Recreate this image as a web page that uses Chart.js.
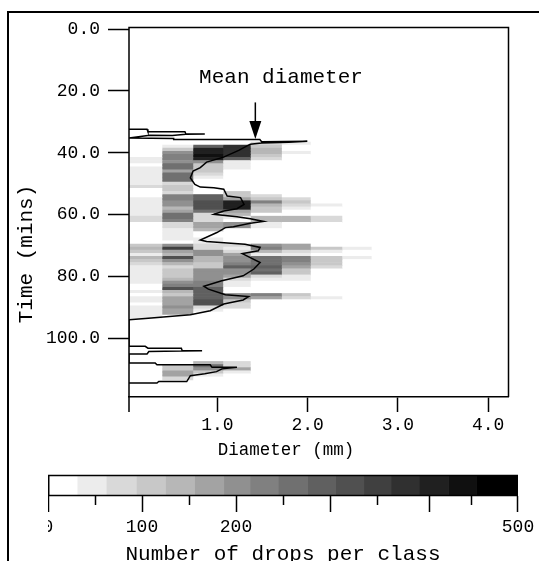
<!DOCTYPE html>
<html><head><meta charset="utf-8">
<style>
html,body{margin:0;padding:0;background:#fff;width:539px;height:561px;overflow:hidden}
#wrap{position:relative;width:539px;height:561px;overflow:hidden}
canvas{position:absolute;display:block;filter:blur(0.35px)}
#main{left:0;top:0}
#bar{left:48px;top:470px}
</style>
<script src="https://cdn.jsdelivr.net/npm/chart.js@4/dist/chart.umd.js"></script>
</head><body><div id="wrap">
<canvas id="main" width="539" height="561"></canvas>
<canvas id="bar" width="491" height="100"></canvas>
</div>
<script>
const FONT = '"Liberation Mono", monospace';
const classEdges = [0.02,0.385,0.728,1.06,1.365,1.71,2.03,2.38,2.705];
const times = [37,38,39,40,41,42,43,44,45,46,47,48,49,50,51,52,53,54,55,56,57,58,59,60,61,62,63,64,65,66,67,68,69,70,71,72,73,74,75,76,77,78,79,80,81,82,83,84,85,86,87,88,89,90,91,92,93,108,109,110,111,112,113];
const class0 = [0,0,0,0,0,47,47,0,47,47,47,47,47,47,78,0,0,0,47,47,47,47,47,47,78,78,0,0,0,0,0,0,0,109,141,109,47,141,109,78,47,47,47,47,47,47,0,0,47,0,47,47,0,47,47,47,47,0,0,0,0,0,0];
const class1 = [0,47,109,203,234,234,203,266,266,172,266,266,266,78,109,109,78,234,234,203,203,141,172,266,266,234,78,78,47,47,47,47,0,203,359,172,141,328,203,141,78,109,109,109,141,203,234,328,141,109,172,172,172,203,172,172,0,0,109,109,172,172,78];
const class2 = [0,297,422,422,453,422,203,109,109,109,78,47,0,0,0,0,0,297,297,328,328,328,266,78,78,78,172,172,141,0,0,47,47,78,78,203,203,141,141,109,109,203,203,203,203,234,234,297,297,297,297,328,328,78,47,0,0,141,266,203,109,47,0];
const class3 = [0,391,391,391,391,297,47,47,47,0,0,0,0,0,0,0,109,109,172,422,422,422,172,141,47,0,203,203,0,0,0,0,0,78,47,78,172,203,203,234,297,203,203,172,78,47,47,0,0,203,203,109,78,78,0,0,0,78,78,172,47,0,0];
const class4 = [78,109,141,141,109,78,0,0,0,0,0,0,0,0,0,0,0,78,109,234,141,109,109,0,141,141,47,47,0,0,0,0,0,203,234,141,47,266,266,266,297,266,297,78,47,0,0,0,0,234,172,0,0,0,0,0,0,0,0,0,0,0,0];
const class5 = [47,0,0,47,0,0,0,0,0,0,0,0,0,0,0,0,0,0,78,109,78,47,0,0,141,141,0,0,0,0,0,0,0,172,172,78,47,234,234,203,172,109,109,47,47,0,0,0,0,109,78,0,0,0,0,0,0,0,0,0,0,0,0];
const class6 = [0,0,0,0,0,0,0,0,0,0,0,0,0,0,0,0,0,0,0,0,47,0,0,0,78,78,0,0,0,0,0,0,0,0,109,47,0,109,109,109,78,0,0,0,0,0,0,0,0,0,47,0,0,0,0,0,0,0,0,0,0,0,0];
const class7 = [0,0,0,0,0,0,0,0,0,0,0,0,0,0,0,0,0,0,0,0,0,0,0,0,0,0,0,0,0,0,0,0,0,0,47,0,0,47,0,0,0,0,0,0,0,0,0,0,0,0,0,0,0,0,0,0,0,0,0,0,0,0,0];
const allClasses = [class0,class1,class2,class3,class4,class5,class6,class7];
const meanDiameter = [.02,.22,.23,.64,.65,.86,.65,.50,.25,.02,.515,.515,1.47,1.49,1.996,1.79,1.49,1.364,1.236,1.068,.88,.81,.73,.70,.75,.81,.96,1.07,1.108,1.256,1.295,1.216,1.07,.96,1.216,1.364,1.512,1.364,1.177,1.088,.994,.81,.88,1.305,1.473,1.453,1.276,1.364,1.473,1.404,1.285,1.048,.85,.90,1.088,1.345,1.285,1.07,.92,.70,.50,.20,.02,.02,.20,.23,.60,.61,.83,.60,.24,.22,.02,.02,.31,.33,.92,.94,1.216,1.05,.99,.86,.70,.66,.35,.33,.02];
const meanTime = [32.4,32.4,33.2,33.2,33.9,33.9,34.0,34.4,34.3,35.2,35.4,35.7,35.7,36.4,36.3,36.6,36.8,37.2,39.2,41.4,43.0,44.8,45.9,48.1,50.2,51.1,51.3,51.8,54.0,54.5,56.7,58.1,58.8,59.9,60.7,61.3,62.2,62.8,63.9,64.2,65.8,68.2,68.7,69.6,70.6,71.7,72.6,73.9,75.5,77.6,79.8,81.4,83.2,84.1,85.9,86.5,87.6,88.9,91.1,92.4,92.9,93.6,94.0,102.6,102.6,103.2,103.2,104.0,104.0,104.1,104.3,105.1,105.1,108.0,108.0,108.6,108.6,109.4,109.4,109.9,110.8,111.5,112.1,114.0,114.0,114.5,114.5];
const legendEdges = [0,31,62,94,125,156,187,215,245,276,306,336,365,395,426,456,500];
const legendGreys = [255,236,217,200,183,163,144,128,112,96,80,64,48,32,16,0];
const legendTicks = [0,50,100,150,200,250,300,350,405,450,500];
const legendLabelled = [0,100,200,500];
const legendLong = [0,100,200,300,405,500];
const xTicks = [1,2,3,4];
const yTicks = [0,20,40,60,80,100];
const arrowDiameter = 1.42, arrowTop = 23.7, arrowBottom = 35.5, annotationText = 'Mean diameter';
const xTitle = 'Diameter (mm)', yTitle = 'Time (mins)', legendTitle = 'Number of drops per class';

function colourFor(v){
  let i = legendEdges.findIndex((e,k)=> v>=e && v<legendEdges[k+1]);
  if(i<0) i = legendGreys.length-1;
  const g = legendGreys[i];
  return `rgb(${g},${g},${g})`;
}
const heatSets = allClasses.map((vals,c)=>({
  type:'bar', indexAxis:'y', order:2, xAxisID:'x', yAxisID:'y', grouped:false,
  barPercentage:1, categoryPercentage:1, borderWidth:0,
  data: times.map((t,i)=>({x:[classEdges[c],classEdges[c+1]],y:t})),
  backgroundColor: vals.map(colourFor)
}));
const zeroPad = s=>{s.paddingLeft=0;s.paddingRight=0;s.paddingTop=0;s.paddingBottom=0;};
const mainDecor = {
  id:'mainDecor',
  afterDraw(c){
    const g=c.ctx, a=c.chartArea, x=c.scales.x, y=c.scales.y;
    g.save();
    g.strokeStyle='#000'; g.lineWidth=1.5;
    g.beginPath(); g.moveTo(a.left,a.bottom+15); g.lineTo(a.left,a.top+.5); g.lineTo(a.right+.5,a.top+.5); g.lineTo(a.right+.5,a.bottom); g.stroke();
    g.lineWidth=2;
    g.beginPath(); g.moveTo(8,561); g.lineTo(8,12); g.lineTo(539,12); g.stroke();
    g.fillStyle='#000'; g.font='21px '+FONT; g.textAlign='center'; g.textBaseline='alphabetic';
    g.fillText(annotationText,281,83);
    g.font='17.5px '+FONT; g.textBaseline='middle';
    g.fillText(xTitle,286,450);
    g.save(); g.translate(26,254); g.rotate(-Math.PI/2); g.font='21px '+FONT; g.fillText(yTitle,0,0); g.restore();
    const ax=x.getPixelForValue(arrowDiameter), t0=y.getPixelForValue(arrowTop), t1=y.getPixelForValue(arrowBottom);
    g.lineWidth=1.5; g.beginPath(); g.moveTo(ax,t0); g.lineTo(ax,t1-10); g.stroke();
    g.beginPath(); g.moveTo(ax-6,t1-18); g.lineTo(ax+6,t1-18); g.lineTo(ax,t1); g.closePath(); g.fill();
    g.restore();
  }
};
new Chart(document.getElementById('main'),{
  type:'bar',
  data:{datasets:[...heatSets,{
    type:'scatter', order:1, xAxisID:'x', yAxisID:'y', showLine:true, fill:false,
    borderColor:'#000', borderWidth:1.5, pointRadius:0, tension:0,
    data: meanDiameter.map((d,i)=>({x:d,y:meanTime[i]}))
  }]},
  options:{
    responsive:false, animation:false, devicePixelRatio:1,
    plugins:{legend:{display:false},tooltip:{enabled:false},title:{display:false}},
    layout:{padding:{left:13,right:31,top:27,bottom:101}},
    scales:{
      x:{type:'linear',position:'bottom',offset:false,min:0.02,max:4.22,
        afterFit(s){s.height=63;zeroPad(s);},
        afterBuildTicks(s){s.ticks=xTicks.map(v=>({value:v}));},
        border:{display:true,color:'#000',width:1.5},
        grid:{offset:false,drawOnChartArea:false,drawTicks:true,tickLength:15,tickColor:'#000',tickWidth:1.5},
        ticks:{autoSkip:false,maxRotation:0,padding:2,color:'#000',font:{family:FONT,size:18},
          callback:v=>Number(v).toFixed(1)}
      },
      y:{type:'linear',position:'left',reverse:true,offset:false,min:-0.7,max:119,
        afterFit(s){s.width=116;zeroPad(s);},
        afterBuildTicks(s){s.ticks=yTicks.map(v=>({value:v}));},
        border:{display:false},
        grid:{offset:false,drawOnChartArea:false,drawTicks:true,tickLength:21,tickColor:'#000',tickWidth:1.5},
        ticks:{autoSkip:false,padding:8,color:'#000',font:{family:FONT,size:18},
          callback:v=>Number(v).toFixed(1)}
      }
    }
  },
  plugins:[mainDecor]
});
const legendDecor = {
  id:'legendDecor',
  afterDraw(c){
    const g=c.ctx,a=c.chartArea,x=c.scales.x;
    g.save(); g.strokeStyle='#000'; g.lineWidth=1.5;
    g.strokeRect(a.left+.75,a.top+.5,a.right-a.left-1.5,a.bottom-a.top-1);
    legendTicks.forEach(v=>{
      const p=Math.min(Math.round(x.getPixelForValue(v))+.5,a.right-.5);
      g.beginPath(); g.moveTo(p,a.bottom); g.lineTo(p,a.bottom+(legendLong.includes(v)?16:9)); g.stroke();
    });
    g.restore();
  }
};
new Chart(document.getElementById('bar'),{
  type:'bar',
  data:{labels:['classes'],datasets:legendGreys.map((g,i)=>({
    indexAxis:'y', grouped:false, barPercentage:1, categoryPercentage:1, borderWidth:0,
    backgroundColor:`rgb(${g},${g},${g})`,
    data:[[legendEdges[i],legendEdges[i+1]]]
  }))},
  options:{
    indexAxis:'y', responsive:false, animation:false, devicePixelRatio:1,
    plugins:{legend:{display:false},tooltip:{enabled:false}},
    layout:{padding:{left:0,right:21,top:5,bottom:5}},
    scales:{
      y:{type:'category',display:false},
      x:{type:'linear',position:'bottom',offset:false,min:0,max:500,
        afterFit(s){s.height=69;zeroPad(s);},
        afterBuildTicks(s){s.ticks=legendTicks.map(v=>({value:v}));},
        border:{display:false},
        grid:{display:false,drawTicks:false},
        ticks:{autoSkip:false,maxRotation:0,padding:20,color:'#000',font:{family:FONT,size:18},
          callback:v=>legendLabelled.includes(v)?String(v):''},
        title:{display:true,text:legendTitle,color:'#000',font:{family:FONT,size:21,lineHeight:1},padding:{top:0,bottom:0}}
      }
    }
  },
  plugins:[legendDecor]
});
</script></body></html>
